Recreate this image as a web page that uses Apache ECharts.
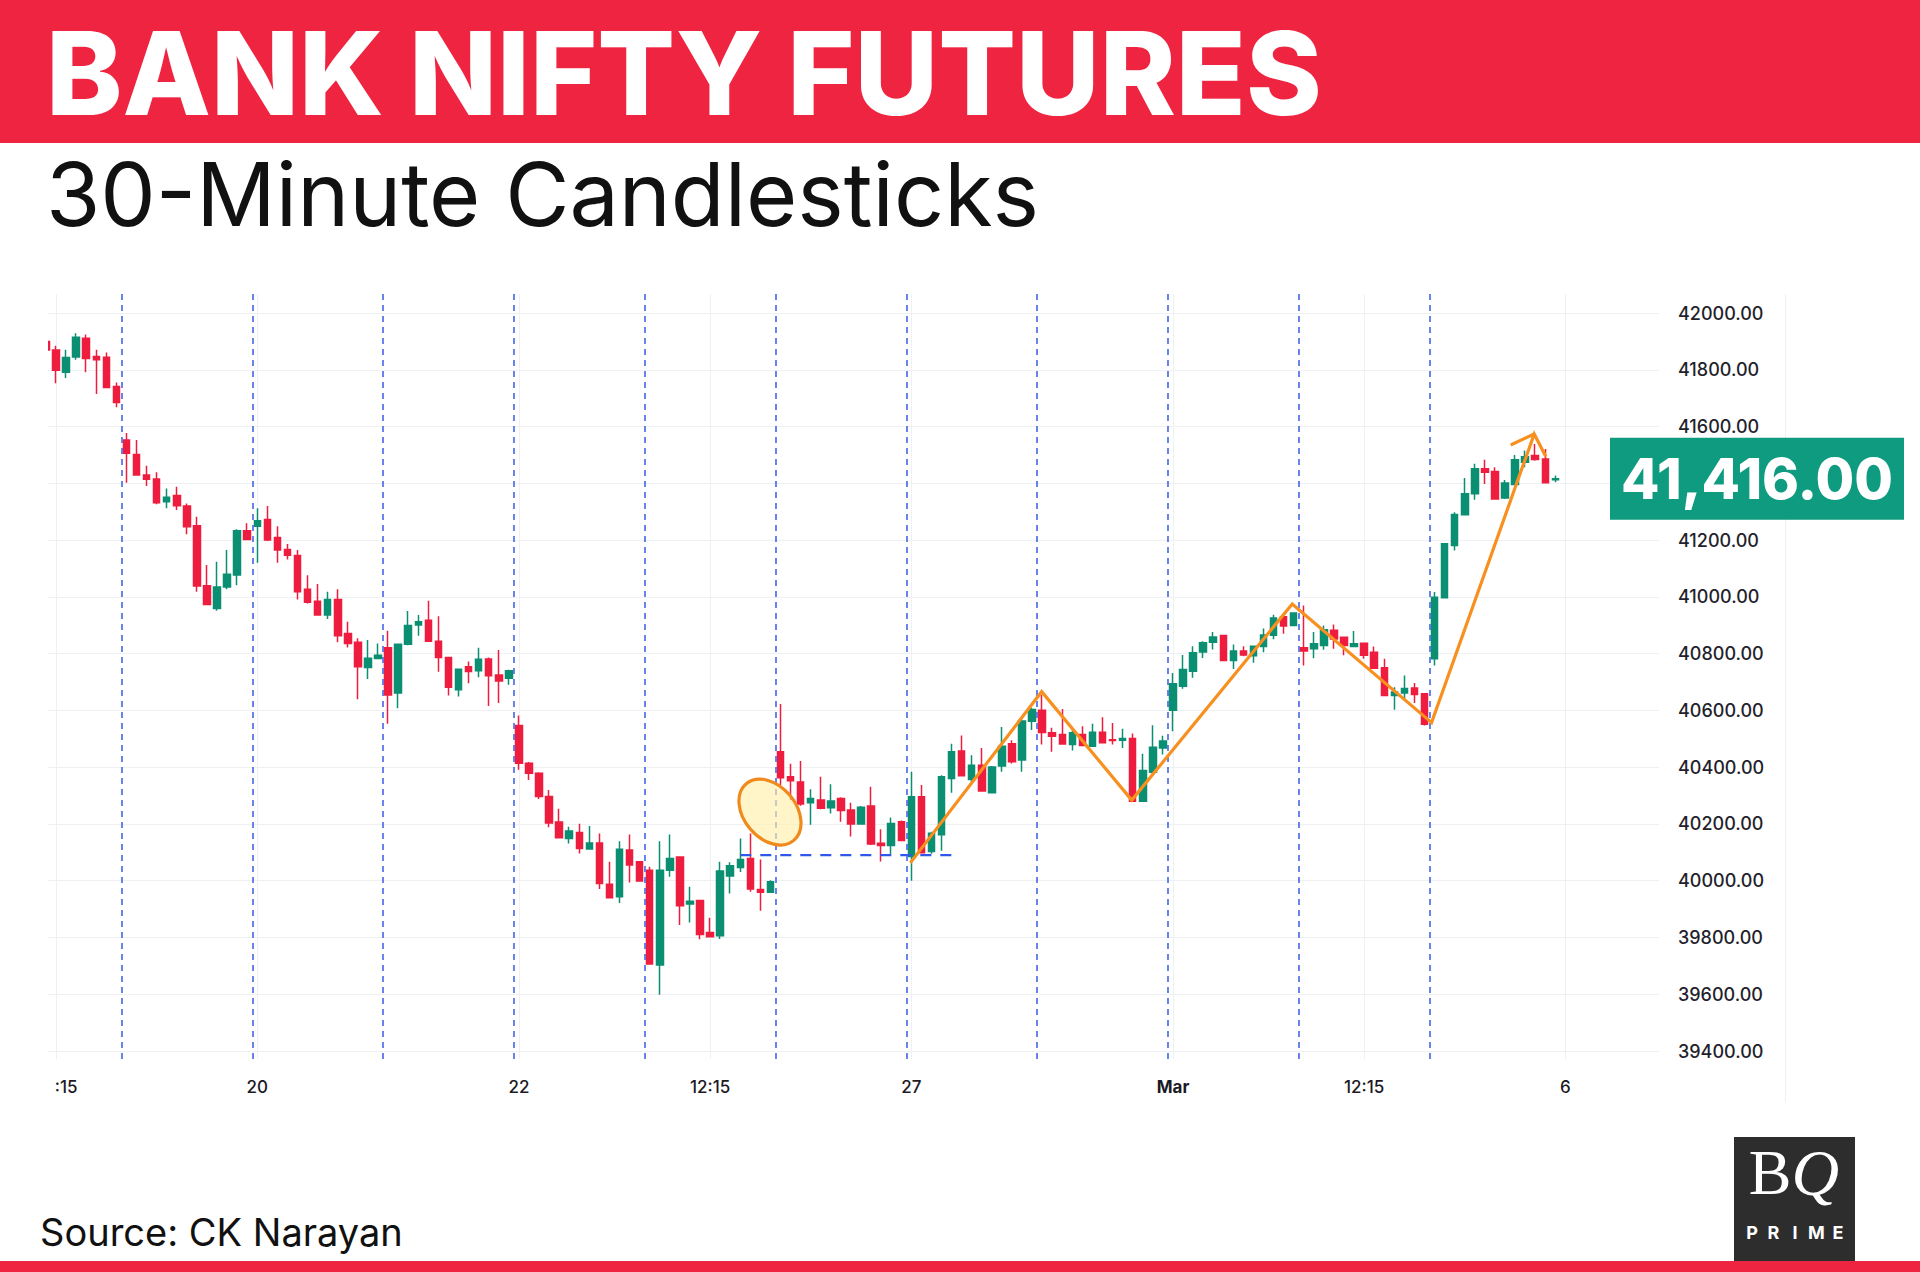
<!DOCTYPE html>
<html><head><meta charset="utf-8">
<script src="https://cdn.jsdelivr.net/npm/echarts@6/dist/echarts.min.js"></script>
<style>html,body{margin:0;padding:0;background:#fff}#c{width:1920px;height:1272px}</style>
</head><body><div id="c"></div>
<script>
// 30-minute candles, index 0 = Feb 16 11:45 ... index 150 = Mar 3 15:15
const opens = [41900,41870,41791,41845,41911,41847,41844,41741,
41553,41502,41429,41415,41335,41357,41320,41251,41039,40959,41035,41077,41233,
41249,41273,41209,41167,41146,41027,40985,40936,40991,40871,40840,40751,40783,
40821,40661,40833,40901,40918,40844,40786,40673,40754,40740,40781,40725,40713,
40547,40414,40379,40297,40207,40149,40170,40112,40133,39988,39944,40108,40067,
40037,39703,40037,40084,39918,39930,39818,39806,40017,40047,40078,39969,39959,
40454,40366,40348,40275,40284,40257,40290,40249,40200,40263,40132,40124,40208,
40085,40296,40103,40162,40360,40457,40357,40407,40310,40404,40483,40425,40562,
40601,40521,40515,40480,40515,40474,40523,40497,40495,40501,40280,40382,40468,
40601,40685,40738,40806,40840,40864,40776,40809,40793,40825,40865,40930,40899,
40821,40817,40829,40882,40858,40825,40837,40805,40750,40653,40661,40679,40659,
40782,40997,41181,41289,41363,41451,41442,41348,41396,41474,41498,41486,41413];
const closes = [41870,41798,41843,41915,41840,41835,41738,41685,
41506,41429,41414,41332,41351,41321,41247,41038,40973,41035,41080,41233,41202,
41268,41200,41165,41147,41018,40981,40936,40991,40863,40836,40754,40784,40794,
40654,40833,40899,40912,40844,40786,40682,40745,40737,40780,40722,40704,40740,
40414,40379,40297,40203,40151,40175,40114,40133,39990,39940,40111,40055,39999,
39707,40037,40078,39912,39928,39811,39803,40034,40053,40075,39971,39959,39996,
40363,40352,40270,40290,40255,40281,40247,40200,40259,40129,40124,40202,40142,
40296,40099,40167,40366,40454,40370,40407,40316,40401,40474,40419,40563,40603,
40522,40509,40482,40521,40476,40523,40486,40494,40501,40280,40388,40470,40492,
40694,40744,40803,40838,40859,40776,40809,40795,40826,40866,40926,40897,40943,
40809,40835,40884,40852,40829,40835,40794,40749,40653,40665,40677,40656,40551,
40999,41187,41290,41363,41451,41439,41345,41401,41483,41494,41484,41402,41416];
const lows = [41860,41753,41771,41835,41791,41715,41735,41668,
41402,41427,41391,41326,41312,41306,41221,41018,40971,40951,41027,41041,41200,
41120,41197,41120,41132,40991,40977,40934,40922,40840,40822,40639,40711,40780,
40553,40608,40830,40863,40842,40736,40653,40649,40696,40717,40616,40626,40690,
40391,40355,40288,40188,40149,40131,40096,40110,39971,39938,39922,39994,39996,
39705,39598,40014,39844,39853,39794,39801,39795,39955,40031,39961,39894,39957,
40336,40284,40264,40197,40252,40237,40208,40156,40197,40126,40068,40094,40140,
40000,40097,40095,40106,40310,40367,40349,40314,40308,40384,40413,40384,40531,
40480,40454,40480,40459,40475,40471,40485,40480,40468,40278,40278,40374,40445,
40527,40676,40715,40785,40815,40774,40746,40791,40768,40805,40851,40870,40897,
40758,40784,40814,40817,40794,40823,40782,40747,40651,40602,40641,40626,40547,
40758,40995,41163,41287,41342,41398,41342,41345,41392,41457,41480,41400,41404];
const highs = [41905,41885,41871,41929,41924,41871,41861,41755,
41577,41553,41462,41439,41382,41388,41329,41282,41112,41124,41165,41238,41259,
41312,41320,41249,41186,41165,41076,41045,41018,41027,40912,40854,40848,40836,
40881,40836,40950,40936,40986,40932,40789,40748,40772,40821,40786,40813,40743,
40582,40418,40382,40320,40254,40190,40201,40193,40166,40067,40139,40163,40069,
40049,40139,40163,40086,39979,39932,39870,40067,40065,40149,40166,40075,40002,
40623,40412,40422,40322,40366,40340,40294,40275,40263,40331,40181,40223,40212,
40384,40337,40173,40372,40483,40512,40442,40468,40404,40542,40495,40577,40609,
40654,40539,40605,40539,40544,40553,40576,40556,40535,40519,40447,40548,40511,
40732,40795,40826,40844,40876,40866,40832,40826,40828,40889,40937,40937,40945,
40970,40876,40899,40903,40860,40880,40839,40825,40782,40682,40723,40697,40661,
41017,41189,41298,41419,41469,41483,41457,41412,41500,41516,41539,41521,41428];

// session breaks (between last candle of a day and first of the next)
const sessionBreaks = [7.5,20.5,33.5,46.5,59.5,72.5,85.5,98.5,111.5,124.5,137.5];
// x-axis: grid lines and labels
const xGridIndex  = [1, 21, 47, 66, 86, 112, 131, 151];
const xLabelIndex = [2, 21, 47, 66, 86, 112, 131, 151];
const xLabelText  = [':15','20','22','12:15','27','{b|Mar}','12:15','6'];
const yGridTicks = [39400,39600,39800,40000,40200,40400,40600,40800,41000,41200,41400,41600,41800,42000];
// 41400.00 is hidden behind the last-price tag in the reference
const yLabelTicks = [39400,39600,39800,40000,40200,40400,40600,40800,41000,41200,41600,41800,42000];
const lastPrice = 41416;
// annotations
const zigzag = [[85.9,40063],[98.95,40666],[107.9,40284],[123.85,40975],[137.7,40557],[147.9,41574],[149.06,41494]];
const arrowWing = [[145.56,41535],[147.9,41574]];
const supportLine = [[69,40090],[90.5,40090]];
const ellipseCenter = [71.95, 40242];

const candles = opens.map((o,i)=>[i, o, closes[i], lows[i], highs[i]]);

const chart = echarts.init(document.getElementById('c'), null, {renderer:'svg'});
const UP='#0b8f73', DOWN='#ee1c3e';
chart.setOption({
  animation:false,
  backgroundColor:'#ffffff',
  grid:{left:48, top:294, width:1611, height:765, containLabel:false},
  xAxis:{
    type:'value', min:0.2, max:160.3,
    axisLine:{show:false},
    axisTick:{show:false, customValues:xGridIndex},
    splitLine:{show:true, lineStyle:{color:'#eef0f4', width:1}},
    axisLabel:{
      customValues:xLabelIndex, margin:19,
      color:'#1c1a24', fontSize:17, fontFamily:'Inter', fontWeight:500,
      rich:{b:{fontSize:17, fontFamily:'Inter', fontWeight:700, color:'#1c1a24'}},
      formatter:(v)=>{ const k=xLabelIndex.findIndex(x=>Math.abs(x-v)<0.01); return k>=0?xLabelText[k]:''; }
    }
  },
  yAxis:{
    type:'value', position:'right', min:39372, max:42067,
    axisLine:{show:false},
    axisTick:{show:false, customValues:yGridTicks},
    splitLine:{show:true, lineStyle:{color:'#eef0f4', width:1}},
    axisLabel:{customValues:yLabelTicks, margin:19, color:'#241f2c', fontSize:18, fontFamily:'Inter', fontWeight:500,
      formatter:(v)=>v.toFixed(2)}
  },
  series:[
    {type:'line', data:[], z:1, silent:true,
     markLine:{silent:true, symbol:['none','none'], label:{show:false},
       lineStyle:{color:'#4466e8', type:[6,5], width:1.6},
       data:sessionBreaks.map(v=>({xAxis:v}))}},
    {type:'candlestick', data:candles, z:3, barWidth:7, clip:true,
     encode:{x:0, y:[1,2,3,4]},
     itemStyle:{color:UP, color0:DOWN, borderColor:UP, borderColor0:DOWN, borderWidth:1.5}},
    {type:'line', data:supportLine, z:4, symbol:'none', silent:true,
     lineStyle:{color:'#2f58ea', width:2.2, type:[11,9]}},
    {type:'line', data:zigzag, z:6, symbol:'none', silent:true,
     lineStyle:{color:'#f7901e', width:3.2, join:'miter'}},
    {type:'line', data:arrowWing, z:6, symbol:'none', silent:true,
     lineStyle:{color:'#f7901e', width:3.2}}
  ]
});

const ec = chart.convertToPixel({gridIndex:0}, ellipseCenter);
const py = chart.convertToPixel({yAxisIndex:0}, lastPrice);
const pLetters = ['P','R','I','M','E'];
const pX = [1752,1773.5,1795,1816.5,1838];
chart.setOption({
  graphic:[
    // crop edge on the left of the plot (the first candle is cut by the frame)
    {type:'rect', shape:{x:0,y:280,width:48,height:790}, style:{fill:'#ffffff'}, z:9},
    {type:'rect', shape:{x:0,y:0,width:1920,height:143}, style:{fill:'#ee2440'}, z:10},
    {type:'text', x:46, y:73.5, z:11, style:{text:'BANK NIFTY FUTURES', fill:'#ffffff',
      font:'800 115px Inter', textAlign:'left', textVerticalAlign:'middle'}},
    {type:'text', x:46, y:193.5, z:11, style:{text:'30-Minute Candlesticks', fill:'#111111',
      font:'400 88px Inter', textAlign:'left', textVerticalAlign:'middle'}},
    {type:'text', x:40, y:1232, z:11, style:{text:'Source: CK Narayan', fill:'#111111',
      font:'400 38px Inter', textAlign:'left', textVerticalAlign:'middle'}},
    {type:'line', shape:{x1:1785.5,y1:294,x2:1785.5,y2:1102}, style:{stroke:'#eef0f4', lineWidth:1}, z:1},
    {type:'ellipse', x:ec[0], y:ec[1], rotation:40*Math.PI/180, z:7,
      shape:{cx:0, cy:0, rx:26, ry:37},
      style:{fill:'rgba(255,240,170,0.65)', stroke:'#f08a1c', lineWidth:3.2}},
    {type:'rect', shape:{x:1610, y:py-41, width:294, height:82}, style:{fill:'#0e9b7f'}, z:10},
    {type:'text', x:1757, y:py, z:11, style:{text:'41,416.00', fill:'#ffffff',
      font:'800 56px Inter', textAlign:'center', textVerticalAlign:'middle'}},
    {type:'rect', shape:{x:1734, y:1137, width:121, height:125}, style:{fill:'#2e2d2e'}, z:10},
    {type:'text', x:1794, y:1172, z:11, style:{text:'{b|B}{q|Q}', fill:'#ffffff',
      textAlign:'center', textVerticalAlign:'middle',
      rich:{b:{font:'400 64px "Liberation Serif"', fill:'#ffffff'}, q:{font:'italic 400 66px "Liberation Serif"', fill:'#ffffff'}}}},
    ...pLetters.map((ch,i)=>({type:'text', x:pX[i], y:1232, z:11, style:{text:ch, fill:'#ffffff',
      font:'700 18px Inter', textAlign:'center', textVerticalAlign:'middle'}})),
    {type:'rect', shape:{x:0, y:1261, width:1920, height:11}, style:{fill:'#ee2440'}, z:10}
  ]
});
</script></body></html>
